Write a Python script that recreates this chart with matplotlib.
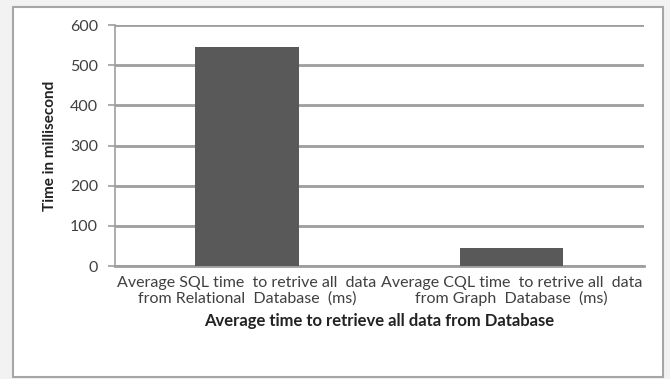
import numpy as np
import matplotlib.pyplot as plt
from matplotlib.patches import Rectangle

# data
categories = ["Average SQL time  to retrive all  data\nfrom Relational  Database  (ms)",
              "Average CQL time  to retrive all  data\nfrom Graph  Database  (ms)"]
times_ms = [545, 45]
yticks = [0, 100, 200, 300, 400, 500, 600]

plt.rcParams['font.family'] = ['Lato', 'DejaVu Sans']

fig = plt.figure(figsize=(6.7, 3.79), dpi=100)
fig.patch.set_facecolor('#f2f2f2')

# white chart area with grey border
fig.patches.append(Rectangle((13/670, 2/379), 650/670, 370/379, transform=fig.transFigure,
                             facecolor='white', edgecolor='#a6a6a6', linewidth=1.5, zorder=-5))

ax = fig.add_axes([0.171, 0.298, 0.79, 0.636])
x = np.arange(len(categories))
ax.bar(x, times_ms, width=0.39, color='#595959', zorder=3)

ax.set_xlim(-0.5, 1.5)
ax.set_ylim(0, 600)
ax.set_yticks(yticks)
ax.yaxis.grid(True, color='#9e9e9e', linewidth=2, zorder=0)
ax.set_axisbelow(True)

for s in ['top', 'right']:
    ax.spines[s].set_visible(False)
ax.spines['left'].set_color('#9e9e9e')
ax.spines['bottom'].set_color('#9e9e9e')
ax.spines['left'].set_linewidth(1.2)
ax.spines['bottom'].set_linewidth(2)
ax.set_facecolor('none')

ax.tick_params(axis='y', colors='#9e9e9e', labelcolor='#404040', labelsize=11.5, length=5, width=1.2, pad=7)
ax.tick_params(axis='x', length=0, labelsize=11.5, labelcolor='#404040', pad=7)
ax.set_xticks(x)
ax.set_xticklabels(categories, linespacing=1.1)

ax.set_ylabel("Time in millisecond", fontsize=11, fontweight='bold', color='#222222', labelpad=9)
ax.set_xlabel("Average time to retrieve all data from Database", fontsize=12, fontweight='bold',
              color='#222222', labelpad=5)

fig.savefig("out.png", dpi=100)
